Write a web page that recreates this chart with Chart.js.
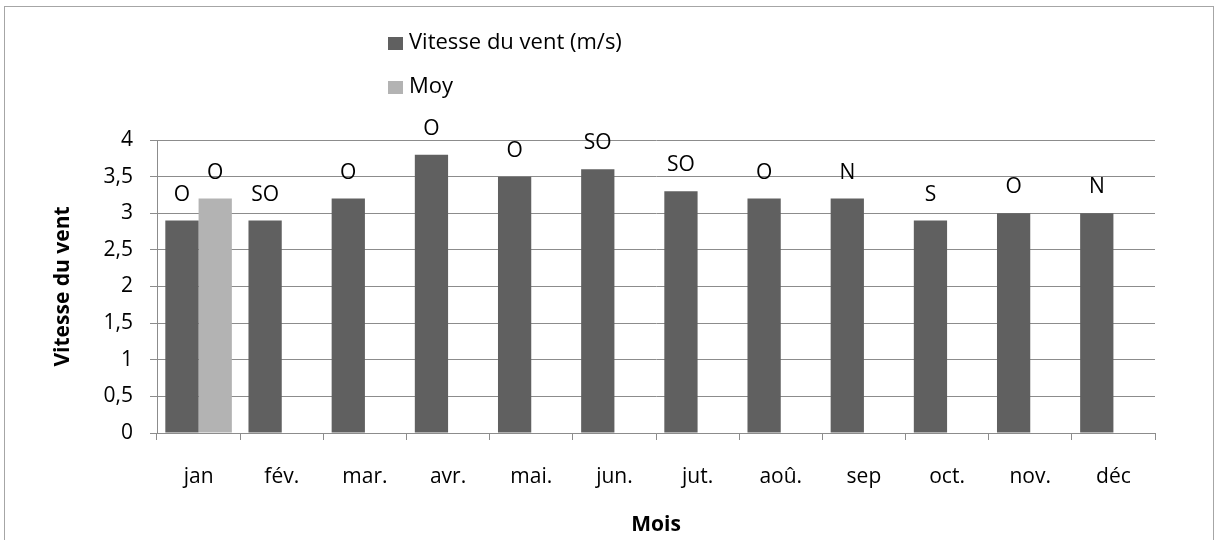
<!DOCTYPE html>
<html>
<head>
<meta charset="utf-8">
<title>Vitesse du vent</title>
<script src="https://cdn.jsdelivr.net/npm/chart.js"></script>
<style>body{margin:0;background:#fff}</style>
</head>
<body>
<canvas id="windChart" width="1218" height="540"></canvas>
<script>
  // data
  const months = ['jan', 'fév.', 'mar.', 'avr.', 'mai.', 'jun.', 'jut.', 'aoû.', 'sep', 'oct.', 'nov.', 'déc'];
  const windSpeed = [2.9, 2.9, 3.2, 3.8, 3.5, 3.6, 3.3, 3.2, 3.2, 2.9, 3.0, 3.0];
  const windDir = ['O', 'SO', 'O', 'O', 'O', 'SO', 'SO', 'O', 'N', 'S', 'O', 'N'];
  const average = [3.2, null, null, null, null, null, null, null, null, null, null, null];
  const averageDir = ['O', null, null, null, null, null, null, null, null, null, null, null];
  const yTicks = [0, 0.5, 1, 1.5, 2, 2.5, 3, 3.5, 4];

  const FONT = "'Open Sans', sans-serif";
  Chart.defaults.font.family = FONT;
  Chart.defaults.color = '#000';

  // white background + light frame + vertical legend
  const frame = {
    id: 'frame',
    beforeDraw(chart) {
      const ctx = chart.ctx;
      ctx.save();
      ctx.fillStyle = '#fff';
      ctx.fillRect(0, 0, chart.width, chart.height);
      ctx.strokeStyle = '#a6a6a6';
      ctx.lineWidth = 1;
      ctx.strokeRect(4.5, 6.5, 1209, 540);
      ctx.restore();
    },
    afterDraw(chart) {
      const ctx = chart.ctx;
      ctx.save();
      ctx.font = '22px ' + FONT;
      ctx.textBaseline = 'middle';
      chart.data.datasets.forEach((ds, i) => {
        const y = 43 + i * 44;
        ctx.fillStyle = ds.backgroundColor;
        ctx.fillRect(388, y - 6, 15, 13);
        ctx.fillStyle = '#000';
        ctx.fillText(ds.label, 409, y);
      });
      ctx.restore();
    }
  };

  // direction labels above the bars
  const dirLabels = {
    id: 'dirLabels',
    afterDatasetsDraw(chart) {
      const ctx = chart.ctx;
      ctx.save();
      ctx.font = '21px ' + FONT;
      ctx.fillStyle = '#000';
      ctx.textAlign = 'center';
      ctx.textBaseline = 'middle';
      chart.data.datasets.forEach((ds, i) => {
        chart.getDatasetMeta(i).data.forEach((bar, j) => {
          if (ds.data[j] == null || !ds.dirs[j]) return;
          ctx.fillText(ds.dirs[j], bar.x, bar.y - 26);
        });
      });
      ctx.restore();
    }
  };

  new Chart(document.getElementById('windChart').getContext('2d'), {
    type: 'bar',
    data: {
      labels: months,
      datasets: [
        { label: 'Vitesse du vent (m/s)', data: windSpeed, dirs: windDir, backgroundColor: '#606060' },
        { label: 'Moy', data: average, dirs: averageDir, backgroundColor: '#b3b3b3' }
      ]
    },
    options: {
      responsive: false,
      animation: false,
      layout: { padding: { top: 140, right: 63, left: 0, bottom: 0 } },
      datasets: { bar: { categoryPercentage: 0.8, barPercentage: 1.0 } },
      plugins: { legend: { display: false }, tooltip: { enabled: false } },
      scales: {
        x: {
          afterFit: s => { s.height = 107; },
          grid: { drawOnChartArea: false, color: '#8c8c8c', tickLength: 7, offset: true },
          border: { color: '#8c8c8c' },
          ticks: { padding: 24, font: { size: 21 } },
          title: { display: true, text: 'Mois', font: { size: 21, weight: 'bold' }, padding: { bottom: 2 } }
        },
        y: {
          min: 0, max: 4,
          afterFit: s => { s.width = 157; },
          afterBuildTicks: s => { s.ticks = yTicks.map(v => ({ value: v })); },
          grid: { color: '#8c8c8c', tickLength: 7 },
          border: { color: '#8c8c8c' },
          ticks: {
            padding: 17,
            font: { size: 21 },
            callback: v => String(v).replace('.', ',')
          },
          title: { display: true, text: 'Vitesse du vent', font: { size: 21, weight: 'bold' }, padding: { top: 50 } }
        }
      }
    },
    plugins: [frame, dirLabels]
  });
</script>
</body>
</html>
